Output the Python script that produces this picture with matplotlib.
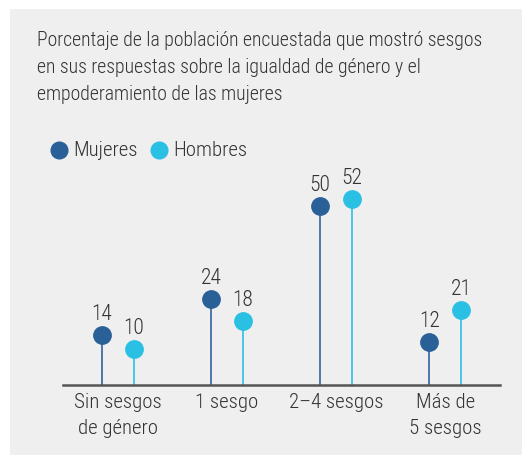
import matplotlib
matplotlib.use("Agg")
import matplotlib.pyplot as plt
from matplotlib.patches import Rectangle
import numpy as np

categories = ["Sin sesgos\nde género", "1 sesgo", "2–4 sesgos", "Más de\n5 sesgos"]
mujeres = [14, 24, 50, 12]
hombres = [10, 18, 52, 21]
series_names = ["Mujeres", "Hombres"]
title = ("Porcentaje de la población encuestada que mostró sesgos\n"
         "en sus respuestas sobre la igualdad de género y el\n"
         "empoderamiento de las mujeres")

plt.rcParams["font.family"] = ["Roboto Condensed", "DejaVu Sans"]
plt.rcParams["font.weight"] = "light"

C_DARK = "#2a6098"
C_LIGHT = "#29c0e4"
C_TEXT = "#333333"
BG = "#efefef"

W, H = 522, 455
fig = plt.figure(figsize=(W / 100, H / 100), dpi=100)
fig.patch.set_facecolor("white")

# panel background
fig.patches.append(Rectangle((10 / W, 0), 1 - 10 / W, 1 - 9 / H,
                             transform=fig.transFigure, facecolor=BG,
                             edgecolor="none", zorder=-5))

def px(x, y):
    return x / W, 1 - y / H

# title
fig.text(*px(37, 31), title, ha="left", va="top", fontsize=14.2,
         color=C_TEXT, linespacing=1.52)

# legend
for (lx, name, col) in [(59, series_names[0], C_DARK), (159, series_names[1], C_LIGHT)]:
    fig.lines.append(plt.Line2D([lx / W], [1 - 150 / H], marker="o",
                                markersize=12, color=col, linestyle="none",
                                transform=fig.transFigure))
    fig.text(*px(lx + 14, 150), name, ha="left", va="center",
             fontsize=15, color=C_TEXT)

# plot area
ppu = 3.58
ymax = 70
ax_left, ax_right, base = 63, 500, 385
ax = fig.add_axes([ax_left / W, (H - base) / H, (ax_right - ax_left) / W,
                   ymax * ppu / H])
ax.set_zorder(2)
ax.set_facecolor("none")
ax.set_xlim(-0.5, 3.5)
ax.set_ylim(0, ymax)
for s in ["top", "right", "left"]:
    ax.spines[s].set_visible(False)
ax.spines["bottom"].set_color("#555555")
ax.spines["bottom"].set_linewidth(1.8)
ax.set_yticks([])

x = np.arange(len(categories))
off = 0.146
for vals, col, stem, dx in [(mujeres, C_DARK, "#3d6fa3", -off),
                            (hombres, C_LIGHT, "#3cc3e6", off)]:
    xs = x + dx
    ax.vlines(xs, 0, vals, color=stem, linewidth=1.3, zorder=2)
    ax.plot(xs, vals, "o", color=col, markersize=12.5, zorder=3,
            clip_on=False)
    for xi, v in zip(xs, vals):
        ax.annotate(f"{v}", (xi, v), xytext=(0, 7), textcoords="offset points",
                    ha="center", va="bottom", fontsize=15.5, color=C_TEXT)

ax.set_xticks(x)
ax.set_xticklabels(categories, fontsize=15, color=C_TEXT, linespacing=1.45)
ax.tick_params(axis="x", length=0, pad=6)

fig.savefig("out.png", dpi=100, facecolor=fig.get_facecolor())
